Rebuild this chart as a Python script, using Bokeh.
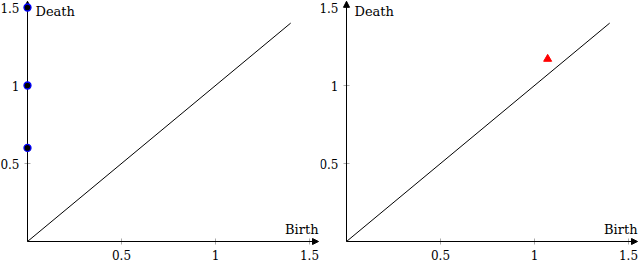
from bokeh.plotting import figure
from bokeh.models import Range1d, LinearAxis, FixedTicker, Arrow, NormalHead
from bokeh.layouts import row
from bokeh.core.properties import value
from bokeh.embed import file_html
from bokeh.resources import INLINE

# data
h0_birth = [0.0, 0.0, 0.0]
h0_death = [0.6, 1.0, 1.5]
h1_birth = [1.07]
h1_death = [1.17]
diag = [0.0, 1.4]
ticks = [0.5, 1, 1.5]
tick_labels = ["0.5", "1", "1.5"]
x_label = "Birth"
y_label = "Death"

FONT = "DejaVu Serif"
FS = "13px"
TFS = "12px"
AX_END = 1.548
SX = 188.0
SY = 156.0


def make_panel(width, ox):
    p = figure(width=width, height=262,
               x_range=Range1d(-ox / SX, (width - ox) / SX),
               y_range=Range1d(-21 / SY, 241 / SY),
               x_axis_type=None, y_axis_type=None, toolbar_location=None, output_backend="svg",
               min_border=0, outline_line_color=None)
    overrides = {t: l for t, l in zip(ticks, tick_labels)}
    for side in ("below", "left"):
        ax = LinearAxis(fixed_location=0, ticker=FixedTicker(ticks=ticks),
                        bounds=(0, AX_END), axis_line_color=None, level="underlay",
                        major_tick_line_color="#aaaaaa", major_tick_in=3, major_tick_out=3,
                        minor_tick_line_color=None, major_label_standoff=5,
                        major_label_text_font=FONT, major_label_text_font_size=TFS,
                        major_label_text_color="black", major_label_overrides=overrides)
        p.add_layout(ax, side)
    head = dict(size=6, fill_color="black", line_color="black")
    p.add_layout(Arrow(x_start=0, y_start=0, x_end=AX_END, y_end=0, line_width=1, line_color="black",
                       end=NormalHead(**head), level="underlay"))
    p.add_layout(Arrow(x_start=0, y_start=0, x_end=0, y_end=1.54, line_width=1, line_color="black",
                       end=NormalHead(**head), level="underlay"))
    p.line(diag, diag, line_color="black", line_width=1)
    p.text(x=[AX_END], y=[0], text=[x_label], text_align="right", text_baseline="bottom",
           y_offset=-5, text_font=value(FONT), text_font_size=FS, text_color="black")
    p.text(x=[0], y=[1.54], text=[y_label], text_align="left", text_baseline="top",
           x_offset=8, y_offset=3, text_font=value(FONT), text_font_size=FS, text_color="black")
    return p


p1 = make_panel(320, 27)
p1.scatter(h0_birth, h0_death, marker="circle", size=7, fill_color="black", line_color="blue", line_width=1.3)

p2 = make_panel(320, 26)
p2.scatter(h1_birth, h1_death, marker="triangle", size=8, fill_color="red", line_color="red")

layout = row(p1, p2)
open("out.html", "w").write(file_html(layout, INLINE))
